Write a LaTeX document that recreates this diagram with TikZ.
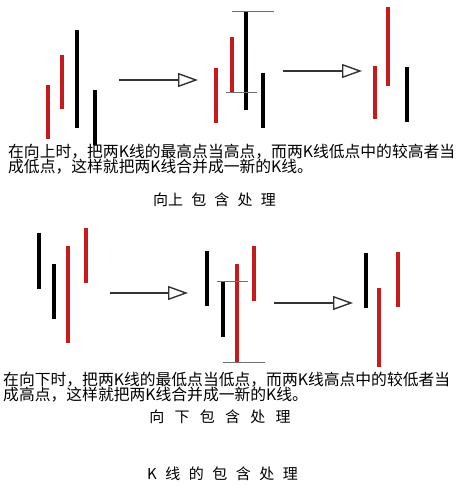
\documentclass[tikz,border=0pt]{standalone}
\usepackage{fontspec}
\newfontfamily\cjk{Noto Sans CJK SC}
\usetikzlibrary{arrows.meta}
\definecolor{kred}{HTML}{C81A1A}
\definecolor{levelgray}{HTML}{707070}
\newcommand{\gap}[1]{\spaceskip=#1\relax}

\begin{document}
\begin{tikzpicture}[
  x=1pt, y=-1pt,
  redbar/.style={draw=kred, line width=3.8pt},
  blackbar/.style={draw=black, line width=3.6pt},
  level/.style={draw=levelgray, line width=0.9pt},
  arrow/.style={-{Triangle[open, length=20pt, width=14pt, line width=1.4pt]},
                draw=black!80, line width=1.4pt},
  note/.style={inner sep=0pt, anchor=base west,
               font=\cjk\fontsize{15.8}{15.8}\selectfont},
  caption/.style={inner sep=0pt, anchor=base,
                  font=\cjk\fontsize{15}{15}\selectfont}
]
\useasboundingbox (0,0) rectangle (460,487);

% Up case: the raw bars
\draw[redbar] (47.7,85) -- (47.7,139);
\draw[redbar] (62.3,55) -- (62.3,109);
\draw[blackbar] (77,30) -- (77,128);
\draw[blackbar] (95,90) -- (95,145);

% Up case: the pair with its high and low
\draw[redbar] (215.7,68) -- (215.7,123);
\draw[redbar] (231.7,37) -- (231.7,92);
\draw[blackbar] (246,12) -- (246,110);
\draw[blackbar] (262.7,73) -- (262.7,128);
\draw[level] (232,11.3) -- (274,11.3);
\draw[level] (226,92) -- (257,92);

% Up case: merged result
\draw[redbar] (375,66) -- (375,119);
\draw[redbar] (388,7) -- (388,86);
\draw[blackbar] (407,67) -- (407,122);

% Up case: arrows
\coordinate (upA1) at (119,80);
\coordinate (upB1) at (198,80);
\coordinate (upA2) at (283,71);
\coordinate (upB2) at (362,71);
\draw[arrow] (upA1) -- (upB1);
\draw[arrow] (upA2) -- (upB2);

% Up case: text
\node[note] (upline1) at (8,157) {在向上时，把两K线的最高点当高点，而两K线低点中的较高者当};
\node[note] (upline2) at (8,172) {成低点，这样就把两K线合并成一新的K线。};
\node[caption] (uptitle) at (214.5,205.5) {\gap{8.2pt}向上 包 含 处 理};

% Down case: the raw bars
\draw[blackbar] (39,233) -- (39,289);
\draw[blackbar] (54,264) -- (54,319);
\draw[redbar] (68,246) -- (68,343);
\draw[redbar] (86,228) -- (86,283);

% Down case: the pair with its high and low
\draw[blackbar] (207,251) -- (207,306);
\draw[blackbar] (223,282) -- (223,337);
\draw[redbar] (237,264) -- (237,362);
\draw[redbar] (254,246) -- (254,301);
\draw[level] (217,281) -- (248,281);
\draw[level] (223,362) -- (265,362);

% Down case: merged result
\draw[blackbar] (366,253) -- (366,308);
\draw[redbar] (379,288) -- (379,367);
\draw[redbar] (398,252) -- (398,307);

% Down case: arrows
\coordinate (downA1) at (110,293);
\coordinate (downB1) at (188,293);
\coordinate (downA2) at (274,303);
\coordinate (downB2) at (353,303);
\draw[arrow] (downA1) -- (downB1);
\draw[arrow] (downA2) -- (downB2);

% Down case: text
\node[note] (downline1) at (3,385) {在向下时，把两K线的最低点当低点，而两K线高点中的较低者当};
\node[note] (downline2) at (3,400) {成高点，这样就把两K线合并成一新的K线。};
\node[caption] (downtitle) at (220,422.5) {\gap{10.3pt}向 下 包 含 处 理};

% Title
\node[caption] (maintitle) at (222.5,479.5) {\gap{8.5pt}K 线 的 包 含 处 理};

\end{tikzpicture}
\end{document}
